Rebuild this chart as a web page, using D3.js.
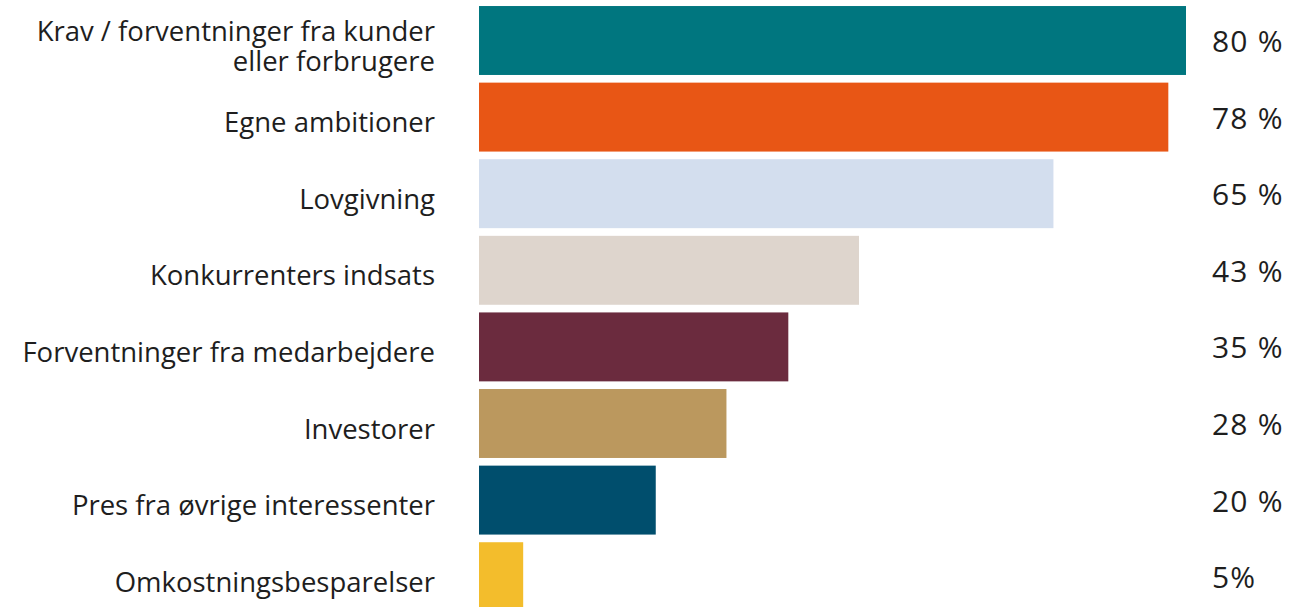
<!DOCTYPE html>
<html>
<head>
<meta charset="utf-8">
<script src="https://cdn.jsdelivr.net/npm/d3@7"></script>
<style>
  body { margin: 0; background: #fff; }
  svg { display: block; }
</style>
</head>
<body>
<svg id="chart"></svg>
<script>
// Data
var categories = [
    ["Krav / forventninger fra kunder", "eller forbrugere"],
    ["Egne ambitioner"],
    ["Lovgivning"],
    ["Konkurrenters indsats"],
    ["Forventninger fra medarbejdere"],
    ["Investorer"],
    ["Pres fra øvrige interessenter"],
    ["Omkostningsbesparelser"]
]
var values = [80, 78, 65, 43, 35, 28, 20, 5]
var valueLabels = ["80 %", "78 %", "65 %", "43 %", "35 %", "28 %", "20 %", "5%"]
var colors = ["#00767f", "#e85615", "#d3deee", "#ded5cd", "#6b2b3e", "#bb985e", "#004e6d", "#f3bd2c"]

const width = 1312
const height = 607

const svg = d3.select("#chart")
    .attr("width", width)
    .attr("height", height)

// scales
const idx = d3.range(values.length)
const yScale = d3.scaleBand()
    .domain(idx)
    .range([2.2, 2.2 + 8 * 76.6])
    .paddingInner(0.1)
    .paddingOuter(0.05)

const xScale = d3.scaleLinear()
    .domain([0, 80])
    .range([479, 1186])

// bars
svg.selectAll("rect")
    .data(idx)
    .enter().append("rect")
    .attr("x", xScale(0))
    .attr("y", i => yScale(i))
    .attr("width", i => xScale(values[i]) - xScale(0))
    .attr("height", yScale.bandwidth())
    .attr("fill", i => colors[i])

// category labels
const labels = svg.selectAll("text.cat")
    .data(idx)
    .enter().append("text")
    .attr("class", "cat")
    .attr("text-anchor", "end")
    .attr("font-family", "'Open Sans', sans-serif")
    .attr("font-size", 27.5)
    .attr("fill", "#1e1e1e")

labels.each(function(i) {
    const lines = categories[i]
    const cy = yScale(i) + yScale.bandwidth() / 2
    const lh = 30
    lines.forEach((t, k) => {
        d3.select(this).append("tspan")
            .attr("x", 435)
            .attr("y", cy + (k - (lines.length - 1) / 2) * lh + 15)
            .text(t)
    })
})

// value labels
svg.selectAll("text.val")
    .data(idx)
    .enter().append("text")
    .attr("class", "val")
    .attr("x", 1212)
    .attr("y", i => yScale(i) + yScale.bandwidth() / 2 + 11.5)
    .attr("font-family", "'Open Sans', sans-serif")
    .attr("font-size", 30)
    .attr("letter-spacing", 1.2)
    .attr("fill", "#1e1e1e")
    .text(i => valueLabels[i])
</script>
</body>
</html>
